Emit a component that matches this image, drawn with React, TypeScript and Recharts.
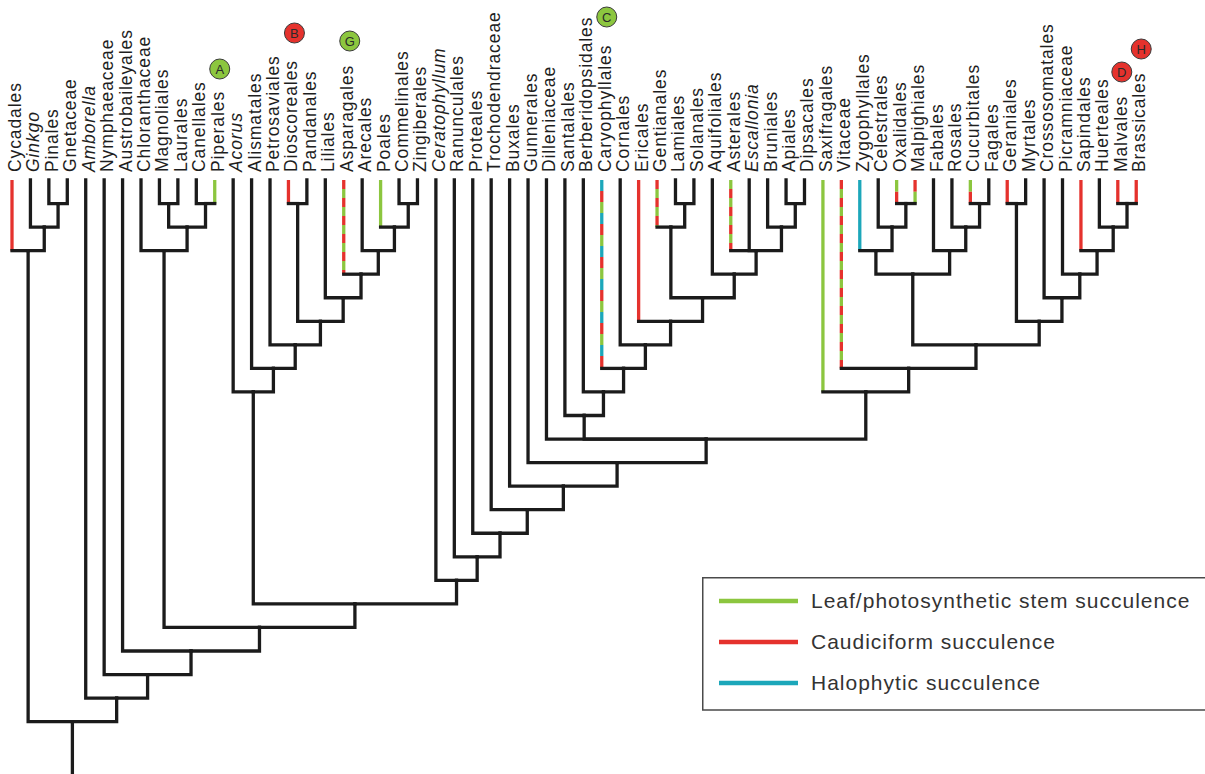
import React from "react";
import { ComposedChart, Line, Scatter, XAxis, YAxis } from "recharts";

// tips, left to right
const taxa = [
  "Cycadales", "Ginkgo", "Pinales", "Gnetaceae", "Amborella", "Nymphaeaceae", "Austrobaileyales",
  "Chloranthaceae", "Magnoliales", "Laurales", "Canellales", "Piperales", "Acorus", "Alismatales",
  "Petrosaviales", "Dioscoreales", "Pandanales", "Liliales", "Asparagales", "Arecales", "Poales",
  "Commelinales", "Zingiberales", "Ceratophyllum", "Ranunculales", "Proteales", "Trochodendraceae",
  "Buxales", "Gunnerales", "Dilleniaceae", "Santalales", "Berberidopsidales", "Caryophyllales",
  "Cornales", "Ericales", "Gentianales", "Lamiales", "Solanales", "Aquifoliales", "Asterales",
  "Escallonia", "Bruniales", "Apiales", "Dipsacales", "Saxifragales", "Vitaceae", "Zygophyllales",
  "Celestrales", "Oxalidales", "Malpighiales", "Fabales", "Rosales", "Cucurbitales", "Fagales",
  "Geraniales", "Myrtales", "Crossosomatales", "Picramniaceae", "Sapindales", "Huerteales",
  "Malvales", "Brassicales",
];

const italicTaxa = ["Ginkgo", "Amborella", "Acorus", "Ceratophyllum", "Escallonia"];

// [clade, children, level of the joining bar] (children before parents)
const clades: [string, string[], number][] = [
  ["gym1", ["Pinales", "Gnetaceae"], 1],
  ["gym2", ["Ginkgo", "gym1"], 2],
  ["gym", ["Cycadales", "gym2"], 3],
  ["mag1", ["Magnoliales", "Laurales"], 1],
  ["mag2", ["Canellales", "Piperales"], 1],
  ["mag3", ["mag1", "mag2"], 2],
  ["magn", ["Chloranthaceae", "mag3"], 3],
  ["mon1", ["Commelinales", "Zingiberales"], 1],
  ["mon2", ["Poales", "mon1"], 2],
  ["mon3", ["Arecales", "mon2"], 3],
  ["mon4", ["Asparagales", "mon3"], 4],
  ["mon5", ["Liliales", "mon4"], 5],
  ["mon6", ["Dioscoreales", "Pandanales"], 1],
  ["mon7", ["mon6", "mon5"], 6],
  ["mon8", ["Petrosaviales", "mon7"], 7],
  ["mon9", ["Alismatales", "mon8"], 8],
  ["mono", ["Acorus", "mon9"], 9],
  ["ast1", ["Lamiales", "Solanales"], 1],
  ["ast2", ["Gentianales", "ast1"], 2],
  ["ast3", ["Apiales", "Dipsacales"], 1],
  ["ast4", ["Bruniales", "ast3"], 2],
  ["ast5", ["Asterales", "Escallonia", "ast4"], 3],
  ["ast6", ["Aquifoliales", "ast5"], 4],
  ["ast7", ["ast2", "ast6"], 5],
  ["ast8", ["Ericales", "ast7"], 6],
  ["ast9", ["Cornales", "ast8"], 7],
  ["sa1", ["Caryophyllales", "ast9"], 8],
  ["sa2", ["Berberidopsidales", "sa1"], 9],
  ["sa3", ["Santalales", "sa2"], 10],
  ["ros1", ["Oxalidales", "Malpighiales"], 1],
  ["ros2", ["Celestrales", "ros1"], 2],
  ["ros3", ["Zygophyllales", "ros2"], 3],
  ["ros4", ["Cucurbitales", "Fagales"], 1],
  ["ros5", ["Rosales", "ros4"], 2],
  ["ros6", ["Fabales", "ros5"], 3],
  ["fab", ["ros3", "ros6"], 4],
  ["mal1", ["Geraniales", "Myrtales"], 1],
  ["mal2", ["Malvales", "Brassicales"], 1],
  ["mal3", ["Huerteales", "mal2"], 2],
  ["mal4", ["Sapindales", "mal3"], 3],
  ["mal5", ["Picramniaceae", "mal4"], 4],
  ["mal6", ["Crossosomatales", "mal5"], 5],
  ["mal7", ["mal1", "mal6"], 6],
  ["rosids", ["fab", "mal7"], 7],
  ["vit", ["Vitaceae", "rosids"], 8],
  ["sr", ["Saxifragales", "vit"], 9],
  ["pent", ["Dilleniaceae", "sa3", "sr"], 11],
  ["eu1", ["Gunnerales", "pent"], 12],
  ["eu2", ["Buxales", "eu1"], 13],
  ["eu3", ["Trochodendraceae", "eu2"], 14],
  ["eu4", ["Proteales", "eu3"], 15],
  ["eu5", ["Ranunculales", "eu4"], 16],
  ["eu6", ["Ceratophyllum", "eu5"], 17],
  ["m1", ["mono", "eu6"], 18],
  ["m2", ["magn", "m1"], 19],
  ["m3", ["Austrobaileyales", "m2"], 20],
  ["m4", ["Nymphaeaceae", "m3"], 21],
  ["m5", ["Amborella", "m4"], 22],
  ["root", ["gym", "m5"], 23],
];

const traitKeys = ["leaf", "caud", "halo"];
const traitNames = ["Leaf/photosynthetic stem succulence", "Caudiciform succulence", "Halophytic succulence"];
const traitColors = ["#8cc63f", "#e5322d", "#1ca7ba"];

// succulent tips, colours listed from the tip down
const traitTips: [string, string[]][] = [
  ["Cycadales", ["caud"]],
  ["Piperales", ["leaf"]],
  ["Dioscoreales", ["caud"]],
  ["Asparagales", ["caud", "leaf"]],
  ["Poales", ["leaf"]],
  ["Caryophyllales", ["halo", "caud", "leaf"]],
  ["Ericales", ["caud"]],
  ["Gentianales", ["caud", "leaf"]],
  ["Asterales", ["leaf", "caud"]],
  ["Saxifragales", ["leaf"]],
  ["Vitaceae", ["caud", "leaf"]],
  ["Zygophyllales", ["halo"]],
  ["Oxalidales", ["leaf", "caud"]],
  ["Malpighiales", ["caud", "leaf"]],
  ["Cucurbitales", ["leaf", "caud"]],
  ["Geraniales", ["caud"]],
  ["Sapindales", ["caud"]],
  ["Malvales", ["caud"]],
  ["Brassicales", ["caud"]],
];

const badgeLetters = ["A", "B", "G", "C", "D", "H"];
const badgeTips = ["Piperales", "Dioscoreales", "Asparagales", "Caryophyllales", "Malvales", "Brassicales"];
const badgeTraits = ["leaf", "caud", "leaf", "leaf", "caud", "caud"];

// layout
const W = 1205;
const H = 774;
const TIP_PX0 = 12;
const TIP_STEP = 18.43;
const LEVEL_PX0 = 180;
const LEVEL_STEP = 23.55;
const xDomain = [-TIP_PX0 / TIP_STEP, (W - TIP_PX0) / TIP_STEP];
const yDomain = [-LEVEL_PX0 / LEVEL_STEP, (H - LEVEL_PX0) / LEVEL_STEP];
const badgeOffsets = [[5, -111], [6, -147], [6, -139], [5, -163], [4, -108], [5, -131]];
const FONT = "'Liberation Sans', Arial, Helvetica, sans-serif";
const INK = "#1b1b1b";
const LW = 3.3;

const colorOf = (key: string) => traitColors[traitKeys.indexOf(key)];

type Seg = {
  pts: { x: number; y: number }[];
  color: string;
  dash?: string;
  offset?: number;
  cap: "butt" | "square";
};

const buildSegments = () => {
  const pos = new Map<string, { x: number; lvl: number }>();
  taxa.forEach((t, i) => pos.set(t, { x: i, lvl: 0 }));
  clades.forEach(([name, kids, lvl]) => {
    const xs = kids.map((k) => pos.get(k)!.x);
    pos.set(name, { x: (Math.min(...xs) + Math.max(...xs)) / 2, lvl });
  });
  const traitMap = new Map(traitTips);
  const segs: Seg[] = [];
  clades.forEach(([name, kids]) => {
    const n = pos.get(name)!;
    kids.forEach((k) => {
      const p = pos.get(k)!;
      const colors = traitMap.get(k);
      if (colors) {
        const vertical = [{ x: p.x, y: p.lvl }, { x: p.x, y: n.lvl }];
        if (colors.length === 1) {
          segs.push({ pts: vertical, color: colorOf(colors[0]), cap: "butt" });
        } else {
          const d = n.lvl === 1 ? LEVEL_STEP / 2 : colors.length === 3 ? 11 : 9;
          colors.forEach((c, j) =>
            segs.push({
              pts: vertical,
              color: colorOf(c),
              dash: `${d} ${d * (colors.length - 1)}`,
              offset: -j * d,
              cap: "butt",
            })
          );
        }
        segs.push({ pts: [{ x: p.x, y: n.lvl }, { x: n.x, y: n.lvl }], color: INK, cap: "square" });
      } else {
        segs.push({
          pts: [{ x: p.x, y: p.lvl }, { x: p.x, y: n.lvl }, { x: n.x, y: n.lvl }],
          color: INK,
          cap: "square",
        });
      }
    });
  });
  const root = pos.get("root")!;
  segs.push({ pts: [{ x: root.x, y: root.lvl }, { x: root.x, y: yDomain[1] + 0.2 }], color: INK, cap: "butt" });
  return segs;
};

const segments = buildSegments();
const tipData = taxa.map((name, i) => ({ x: i, y: 0, name }));
const badgeData = badgeLetters.map((letter, i) => ({
  x: taxa.indexOf(badgeTips[i]),
  y: 0,
  letter,
  fill: colorOf(badgeTraits[i]),
  off: badgeOffsets[i],
}));

const TipLabel = (props: any) => {
  const { cx, cy, payload } = props;
  const bx = cx + 9;
  const by = cy - 8;
  return (
    <text
      x={bx}
      y={by}
      transform={`rotate(-90 ${bx} ${by})`}
      fontSize={17.5}
      letterSpacing={0.9}
      fontFamily={FONT}
      fontStyle={italicTaxa.includes(payload.name) ? "italic" : "normal"}
      fill="#1e1e1e"
    >
      {payload.name}
    </text>
  );
};

const Badge = (props: any) => {
  const { cx, cy, payload } = props;
  const x = cx + payload.off[0];
  const y = cy + payload.off[1];
  return (
    <g>
      <circle cx={x} cy={y} r={10} fill={payload.fill} stroke="#3a3a3a" strokeWidth={1} />
      <text x={x} y={y + 4.5} textAnchor="middle" fontSize={13} fontFamily={FONT} fill="#2a2a2a">
        {payload.letter}
      </text>
    </g>
  );
};

const LegendBox = () => (
  <svg width={503} height={134} style={{ position: "absolute", left: 702, top: 577 }}>
    <path d="M503 0.75 H0.75 V133 H503" fill="none" stroke="#4a4a4a" strokeWidth={1.5} />
    {traitNames.map((name, i) => {
      const y = 24 + i * 41;
      return (
        <g key={name}>
          <line x1={17} x2={96} y1={y} y2={y} stroke={traitColors[i]} strokeWidth={4.5} />
          <text x={109} y={y + 7} fontSize={21} letterSpacing={1} fontFamily={FONT} fill="#333">
            {name}
          </text>
        </g>
      );
    })}
  </svg>
);

export default function App() {
  return (
    <div style={{ position: "absolute", left: 0, top: 0, width: W, height: H, background: "#fff" }}>
      <ComposedChart width={W} height={H} margin={{ top: 0, right: 0, bottom: 0, left: 0 }}>
        <XAxis type="number" dataKey="x" domain={xDomain} allowDataOverflow hide />
        <YAxis type="number" dataKey="y" domain={yDomain} allowDataOverflow reversed hide />
        {segments.map((s, i) => (
          <Line
            key={`seg-${i}`}
            data={s.pts}
            dataKey="y"
            type="linear"
            stroke={s.color}
            strokeWidth={LW}
            strokeDasharray={s.dash}
            strokeDashoffset={s.offset}
            strokeLinecap={s.cap}
            strokeLinejoin="miter"
            dot={false}
            activeDot={false}
            isAnimationActive={false}
          />
        ))}
        <Scatter data={tipData} shape={TipLabel} isAnimationActive={false} />
        <Scatter data={badgeData} shape={Badge} isAnimationActive={false} />
      </ComposedChart>
      <LegendBox />
    </div>
  );
}
